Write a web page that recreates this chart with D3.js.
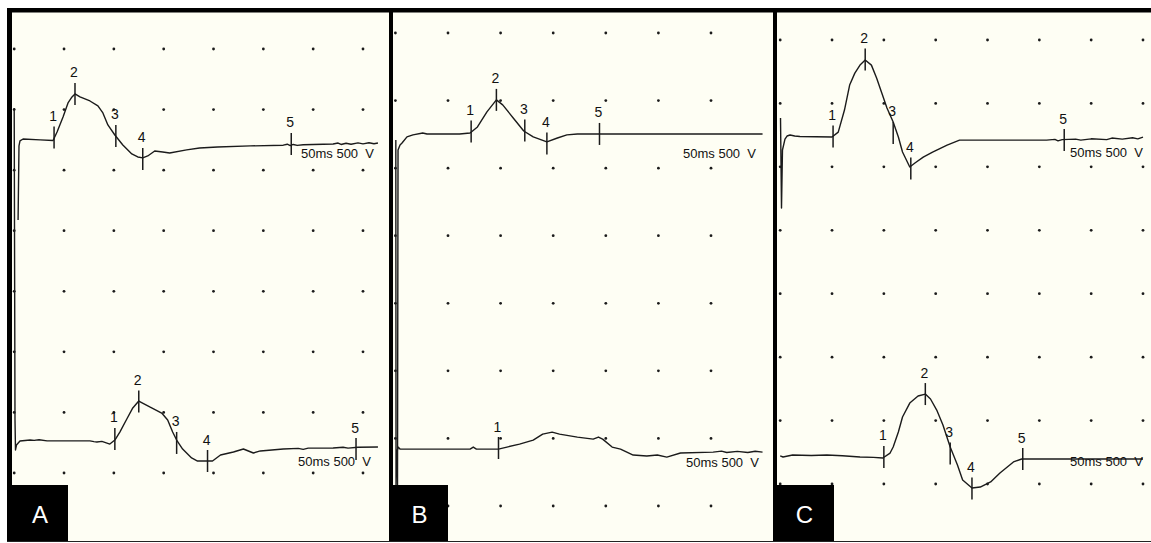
<!DOCTYPE html>
<html>
<head>
<meta charset="utf-8">
<script src="https://cdn.jsdelivr.net/npm/d3@7"></script>
<style>
  body { margin: 0; background: #fff; }
  svg { display: block; font-family: "Liberation Sans", Arial, sans-serif; }
  .trace { fill: none; stroke: #1b1b1b; stroke-width: 1.4; stroke-linejoin: round; }
  .mark { stroke: #1b1b1b; stroke-width: 1.5; }
  .num { font-size: 14px; fill: #111; text-anchor: middle; }
  .cal { font-size: 13px; fill: #111; white-space: pre; }
  .dot { fill: #1b1b1b; }
</style>
</head>
<body>
<svg id="chart" width="1151" height="543"></svg>
<script>
// time in ms after stimulus, amplitude in microvolts (500 uV per division)
var panelNames = ['A', 'B', 'C'];
var markLabels = ['1', '2', '3', '4', '5'];
var calText = '50ms 500  V';

var colsA = [0, 50, 100, 150, 200, 250, 300, 350];
var colsB = [0, 50, 100, 150, 200, 250, 300];
var colsC = [0, 50, 100, 150, 200, 250, 300, 350];
var gridRows = [0, 1, 2, 3, 4, 5, 6, 7];

var traceA1 = [[3.9,-661],[4.8,-50],[5.8,-9],[8.9,7],[26,0],[39,-5],[43,65],[49,189],[54,305],[58,354],[61,379],
  [66,354],[76,321],[84,280],[89,222],[94,123],[101,40],[109,-42],[118,-116],[124,-141],[129,-149],[134,-133],
  [141,-92],[149,-100],[156,-108],[173,-83],[186,-67],[204,-59],[237,-50],[270,-44],[274,-36],[277,-48],
  [280,-38],[284,-46],[290,-40],[320,-34],[325,-26],[328,-38],[333,-28],[338,-36],[345,-25],[350,-33],
  [356,-24],[361,-32],[365,-26]];
var traceA2 = [[0,2748],[0.8,173],[1.3,-75],[2.3,-34],[5.8,-1],[16,7],[20,4],[25,9],[33,0],[76,0],[80,-6],
  [83,-9],[88,-4],[96,-26],[101,7],[106,73],[113,181],[119,272],[125,329],[136,280],[148,230],[154,173],
  [159,73],[163,7],[169,-67],[178,-141],[184,-166],[199,-166],[207,-116],[220,-92],[230,-67],[240,-100],
  [247,-83],[270,-67],[285,-62],[290,-70],[295,-60],[320,-59],[330,-52],[335,-60],[345,-52],[365,-50]];
var traceB1 = [[2,-2602],[2.5,-115],[4.4,-78],[6.3,-64],[11,-19],[16.7,-4],[26,10],[30,3],[61,3],[71,10],
  [78,55],[87,166],[96,255],[102,218],[112,121],[122,25],[131,-19],[144,-56],[154,-27],[163,-4],[173,3],[349,3]];
var traceB2 = [[0.4,2288],[0.6,-272],[1.5,-21],[2.5,16],[4.4,1],[71,1],[74,16],[77,1],[98,1],[106,16],
  [118,38],[131,68],[140,112],[149,127],[156,112],[173,90],[188,75],[193,90],[197,75],[206,16],[214,1],
  [226,-43],[239,-50],[249,-43],[258,-58],[271,-28],[302,-21],[310,-14],[315,-24],[325,-16],[335,-24],
  [342,-15],[349,-21]];
var traceC1 = [[0.3,150],[1.25,-559],[2.2,-102],[4.6,-16],[6.6,8],[9.5,16],[14,8],[19,4],[50,0],[56,39],
  [62,213],[67,410],[72,504],[77,567],[82,607],[88,567],[93,465],[98,347],[103,229],[109,118],[114,0],
  [118,-118],[125,-236],[130,-205],[138,-158],[147,-118],[161,-63],[173,-24],[205,-24],[257,-24],[265,-18],
  [268,-30],[272,-20],[285,-16],[290,-24],[300,-14],[315,-20],[320,-8],[330,-16],[340,-6],[345,-14],[350,0]];
var traceC2 = [[0,1],[2.7,-7],[12,9],[30,5],[45,9],[60,3],[77,-7],[90,-10],[99,-15],[106,24],[109,72],
  [114,190],[118,308],[125,418],[133,474],[140,489],[145,450],[151,363],[157,245],[164,72],[171,-70],
  [176,-188],[185,-251],[193,-244],[203,-204],[212,-133],[225,-46],[233,-23],[244,-23],[350,-23]];

var marksA1 = [[40,20],[61,379],[102,32],[129,-158],[278,-34]];
var marksA2 = [[101,16],[125,325],[163,-17],[194,-166],[343,-67]];
var marksB1 = [[72,21],[96,255],[123,29],[144,-67],[194,3]];
var marksB2 = [[98,9]];
var marksC1 = [[51,4],[82,611],[109,32],[126,-248],[274,-24]];
var marksC2 = [[100,-7],[140,489],[164,20],[185,-255],[234,-23]];

// screen layout of the three recordings
var layout = [
  { x0: 12,  x1: 389,  t: [0, 350], tx: [14.2, 363], ry: [49, 473], cols: colsA,
    base: [1.5, 6.47], cal: [[301, 158], [298, 466]], box: [12, 56],
    traces: [traceA1, traceA2], marks: [marksA1, marksA2] },
  { x0: 393, x1: 773,  t: [0, 300], tx: [395.4, 711], ry: [33, 506], cols: colsB,
    base: [1.5, 6.16], cal: [[683, 158], [686, 467]], box: [389, 59],
    traces: [traceB1, traceB2], marks: [marksB1, marksB2] },
  { x0: 777, x1: 1151, t: [0, 350], tx: [780.2, 1143], ry: [40, 484], cols: colsC,
    base: [1.53, 6.56], cal: [[1070, 157], [1070, 466]], box: [773, 61],
    traces: [traceC1, traceC2], marks: [marksC1, marksC2] }
];

var panelTop = 12.5, panelBottom = 541, tickLen = 22;
var svg = d3.select('#chart');

svg.append('rect').attr('x', 7).attr('y', 8).attr('width', 1144).attr('height', panelBottom - 8)
  .attr('fill', '#000');

layout.forEach(function(p, i) {
  var x = d3.scaleLinear().domain(p.t).range(p.tx);
  var row = d3.scaleLinear().domain([0, 7]).range(p.ry);
  var g = svg.append('g').attr('class', 'panel');

  g.append('rect')
    .attr('x', p.x0).attr('y', panelTop)
    .attr('width', p.x1 - p.x0).attr('height', panelBottom - panelTop)
    .attr('fill', '#fefef4');

  // dot grid
  var pts = [];
  p.cols.forEach(function(c) { gridRows.forEach(function(r) { pts.push([c, r]); }); });
  g.selectAll('circle.dot').data(pts).enter().append('circle')
    .attr('class', 'dot')
    .attr('cx', function(d) { return x(d[0]); })
    .attr('cy', function(d) { return row(d[1]); })
    .attr('r', 1.4);

  p.traces.forEach(function(tr, k) {
    var yv = function(v) { return row(p.base[k] - v / 500); };
    var line = d3.line()
      .x(function(d) { return x(d[0]); })
      .y(function(d) { return yv(d[1]); });

    g.append('path').datum(tr).attr('class', 'trace').attr('d', line);

    var m = g.selectAll(null).data(p.marks[k]).enter().append('g');
    m.append('line')
      .attr('class', 'mark')
      .attr('x1', function(d) { return x(d[0]); })
      .attr('x2', function(d) { return x(d[0]); })
      .attr('y1', function(d) { return yv(d[1]) - tickLen / 2; })
      .attr('y2', function(d) { return yv(d[1]) + tickLen / 2; });
    m.append('text')
      .attr('class', 'num')
      .attr('x', function(d) { return x(d[0]) - 1; })
      .attr('y', function(d) { return yv(d[1]) - tickLen / 2 - 5.5; })
      .text(function(d, j) { return markLabels[j]; });

    g.append('text').attr('class', 'cal')
      .attr('x', p.cal[k][0]).attr('y', p.cal[k][1])
      .text(calText);
  });

  // panel letter
  g.append('rect')
    .attr('x', p.box[0]).attr('y', 485)
    .attr('width', p.box[1]).attr('height', panelBottom - 485)
    .attr('fill', '#000');
  g.append('text')
    .attr('x', p.box[0] + p.box[1] / 2 + (i === 0 ? 0 : 1)).attr('y', 523)
    .attr('text-anchor', 'middle')
    .attr('fill', '#fff')
    .style('font-size', '24px')
    .text(panelNames[i]);
});

svg.append('line').attr('x1', 7).attr('x2', 1151).attr('y1', 541.5).attr('y2', 541.5)
  .attr('stroke', '#222').attr('stroke-width', 1);
</script>
</body>
</html>
